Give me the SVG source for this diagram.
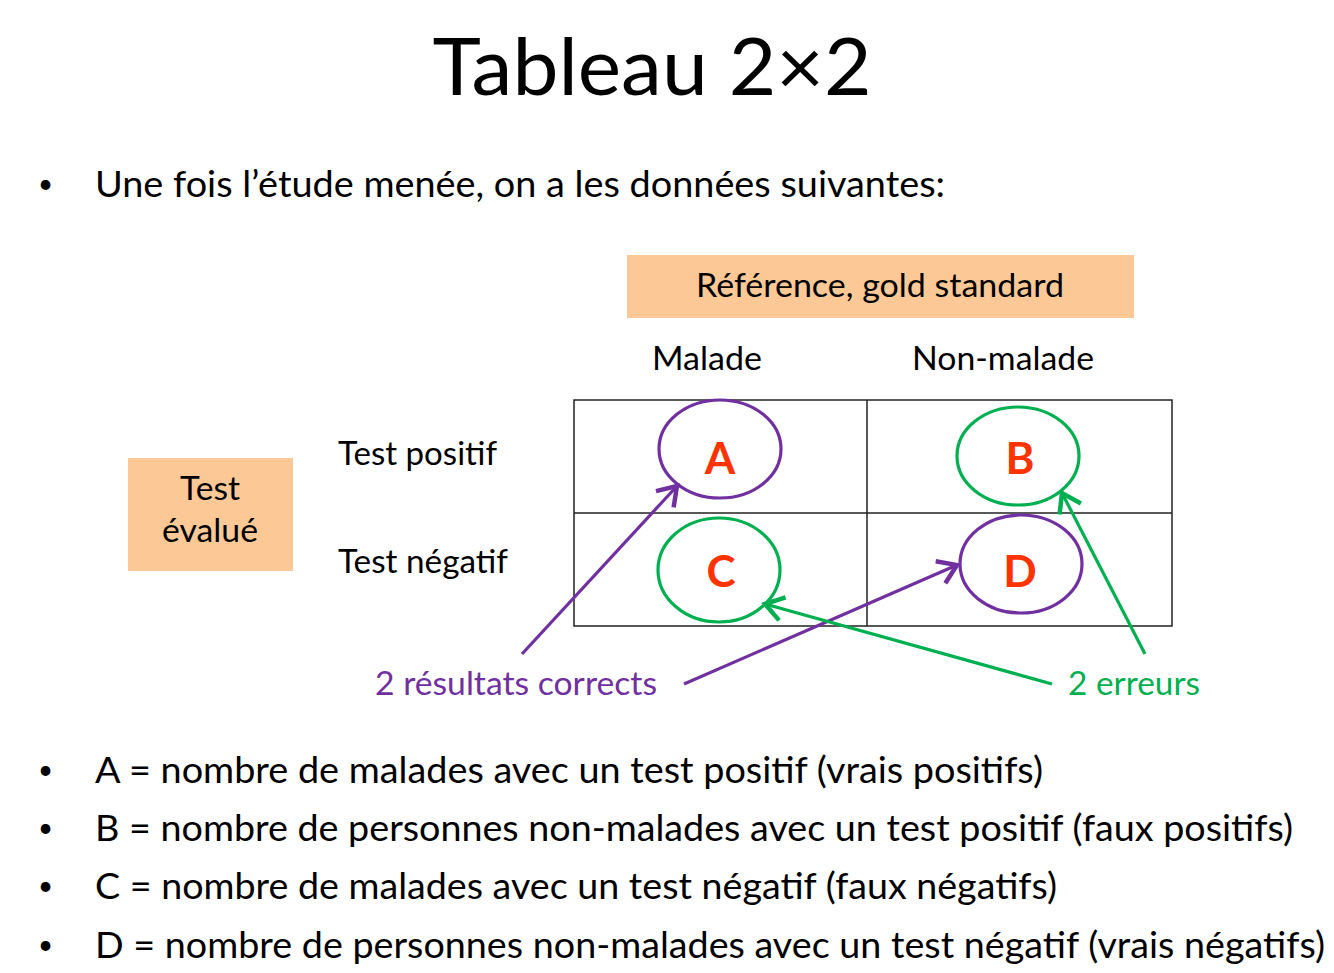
<svg xmlns="http://www.w3.org/2000/svg" width="1334" height="973" viewBox="0 0 1334 973">
<style>
text{font-family:Lato,"Open Sans","Liberation Sans",sans-serif;fill:#000}
.t{font-size:36px}
.b{font-size:26px}
.letter{font-size:44px;font-weight:bold;fill:#FF3300;text-anchor:middle}
.box{fill:#FCC996}
.cell{fill:none;stroke:#222;stroke-width:1.5}
.pur{stroke:#7030A0;stroke-width:3.2;fill:none}
.grn{stroke:#00B050;stroke-width:3.2;fill:none}
</style>
<defs>
<marker id="ap" markerUnits="userSpaceOnUse" markerWidth="30" markerHeight="30" refX="14" refY="10" orient="auto" viewBox="0 0 20 20">
<path d="M2,2 L14,10 L2,18" fill="none" stroke="#7030A0" stroke-width="3"/>
</marker>
<marker id="ag" markerUnits="userSpaceOnUse" markerWidth="30" markerHeight="30" refX="14" refY="10" orient="auto" viewBox="0 0 20 20">
<path d="M2,2 L14,10 L2,18" fill="none" stroke="#00B050" stroke-width="3"/>
</marker>
</defs>
<rect width="1334" height="973" fill="#fff"/>
<g id="title"><text x="652" y="95" font-size="79" text-anchor="middle" textLength="439" lengthAdjust="spacingAndGlyphs">Tableau 2×2</text></g>
<g id="intro">
<text x="38" y="193" class="b">•</text>
<text x="95" y="197" class="t" textLength="850" lengthAdjust="spacingAndGlyphs">Une fois l’étude menée, on a les données suivantes:</text>
</g>
<g id="reference">
<rect class="box" x="627" y="255" width="507" height="63"/>
<text x="880" y="297" text-anchor="middle" textLength="368" lengthAdjust="spacingAndGlyphs" style="font-size:32px">Référence, gold standard</text>
</g>
<g id="col-labels">
<text x="652" y="370" style="font-size:32px" textLength="110" lengthAdjust="spacingAndGlyphs">Malade</text>
<text x="912" y="370" style="font-size:32px" textLength="182" lengthAdjust="spacingAndGlyphs">Non-malade</text>
</g>
<g id="test-evalue">
<rect class="box" x="128" y="458" width="165" height="113"/>
<text x="210" y="500" style="font-size:32px" text-anchor="middle" textLength="60" lengthAdjust="spacingAndGlyphs">Test</text>
<text x="210" y="542" style="font-size:32px" text-anchor="middle" textLength="96" lengthAdjust="spacingAndGlyphs">évalué</text>
</g>
<g id="row-labels">
<text x="338" y="465" style="font-size:32px" textLength="159" lengthAdjust="spacingAndGlyphs">Test positif</text>
<text x="338" y="573" style="font-size:32px" textLength="170" lengthAdjust="spacingAndGlyphs">Test négatif</text>
</g>
<g id="table">
<rect class="cell" x="574" y="400" width="598" height="226"/>
<line class="cell" x1="867" y1="400" x2="867" y2="626"/>
<line class="cell" x1="574" y1="513" x2="1172" y2="513"/>
</g>
<g id="node-A"><ellipse class="pur" cx="720" cy="449" rx="61" ry="49"/><text class="letter" x="720" y="474">A</text></g>
<g id="node-B"><ellipse class="grn" cx="1018" cy="456" rx="61" ry="49"/><text class="letter" x="1020" y="474">B</text></g>
<g id="node-C"><ellipse class="grn" cx="719" cy="570" rx="61" ry="52"/><text class="letter" x="721" y="587">C</text></g>
<g id="node-D"><ellipse class="pur" cx="1021" cy="564" rx="61" ry="49"/><text class="letter" x="1020" y="587">D</text></g>
<g id="connectors">
<line class="pur" x1="522" y1="654" x2="677" y2="486" marker-end="url(#ap)"/>
<line class="pur" x1="684" y1="684" x2="957" y2="565" marker-end="url(#ap)"/>
<line class="grn" x1="1052" y1="684" x2="765" y2="604" marker-end="url(#ag)"/>
<line class="grn" x1="1145" y1="654" x2="1062" y2="493" marker-end="url(#ag)"/>
</g>
<g id="label-correct"><text x="375" y="695" style="font-size:32px;fill:#7030A0" textLength="282" lengthAdjust="spacingAndGlyphs">2 résultats corrects</text></g>
<g id="label-errors"><text x="1068" y="695" style="font-size:32px;fill:#00B050" textLength="132" lengthAdjust="spacingAndGlyphs">2 erreurs</text></g>
<g id="definitions">
<text x="38" y="779" class="b">•</text>
<text x="95" y="783" class="t" textLength="948" lengthAdjust="spacingAndGlyphs">A = nombre de malades avec un test positif (vrais positifs)</text>
<text x="38" y="837" class="b">•</text>
<text x="95" y="841" class="t" textLength="1198" lengthAdjust="spacingAndGlyphs">B = nombre de personnes non-malades avec un test positif (faux positifs)</text>
<text x="38" y="895" class="b">•</text>
<text x="95" y="899" class="t" textLength="962" lengthAdjust="spacingAndGlyphs">C = nombre de malades avec un test négatif (faux négatifs)</text>
<text x="38" y="954" class="b">•</text>
<text x="95" y="958" class="t" textLength="1230" lengthAdjust="spacingAndGlyphs">D = nombre de personnes non-malades avec un test négatif (vrais négatifs)</text>
</g>
</svg>
